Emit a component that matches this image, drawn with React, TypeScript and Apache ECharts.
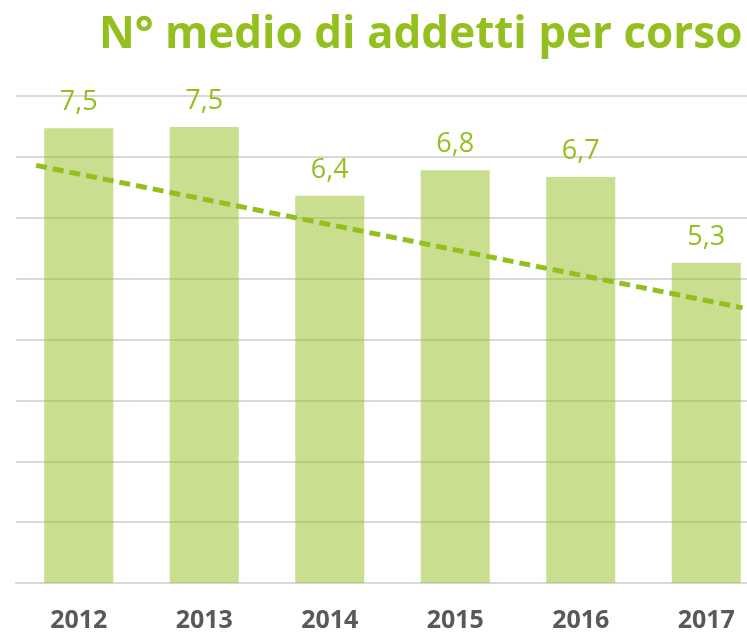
import React, { useEffect, useRef } from "react";
import * as echarts from "echarts";

const categories = ["2012", "2013", "2014", "2015", "2016", "2017"];
const values = [7.47, 7.49, 6.36, 6.78, 6.67, 5.26];
// trend line endpoints: [category position, value]
const trendPoints: [number, number][] = [
  [-0.34, 6.86],
  [5.29, 4.52],
];
const title = "N° medio di addetti per corso";

const GREEN = "#93c01f";

export default function App() {
  const ref = useRef<HTMLDivElement>(null);
  useEffect(() => {
    if (!ref.current) return;
    const chart = echarts.init(ref.current, undefined, { renderer: "svg" });
    chart.setOption({
      animation: false,
      title: {
        text: title,
        left: 94,
        top: 4,
        textStyle: {
          color: GREEN,
          fontFamily: "Open Sans",
          fontWeight: "bold",
          fontSize: 44,
        },
      },
      grid: { left: 16, right: 1, top: 96, bottom: 52, containLabel: false },
      xAxis: [
        {
          type: "category",
          data: categories,
          axisLine: { lineStyle: { color: "#d9d9d9", width: 2 } },
          axisTick: { show: false },
          axisLabel: {
            color: "#595959",
            fontFamily: "Open Sans",
            fontWeight: "bold",
            fontSize: 25,
            lineHeight: 25,
            margin: 22,
          },
        },
        {
          type: "value",
          min: -0.5,
          max: 5.5,
          show: false,
        },
      ],
      yAxis: {
        type: "value",
        min: 0,
        max: 8,
        interval: 1,
        axisLabel: { show: false },
        axisLine: { show: false },
        axisTick: { show: false },
        splitLine: { lineStyle: { color: "#d9d9d9", width: 2 } },
        z: 0,
      },
      series: [
        {
          type: "bar",
          data: values,
          barWidth: "55%",
          itemStyle: { color: "rgba(147,192,31,0.5)" },
          label: {
            show: true,
            position: "top",
            distance: 15,
            color: GREEN,
            fontFamily: "Open Sans",
            fontSize: 27,
            lineHeight: 27,
            formatter: (p: any) => p.value.toFixed(1).replace(".", ","),
          },
          z: 2,
        },
        {
          type: "line",
          xAxisIndex: 1,
          data: trendPoints,
          symbol: "none",
          lineStyle: { color: GREEN, width: 5, type: [11, 6] },
          z: 5,
        },
      ],
    });
    return () => chart.dispose();
  }, []);
  return (
    <div
      ref={ref}
      style={{ position: "fixed", left: 0, top: 0, width: 770, height: 635 }}
    />
  );
}
